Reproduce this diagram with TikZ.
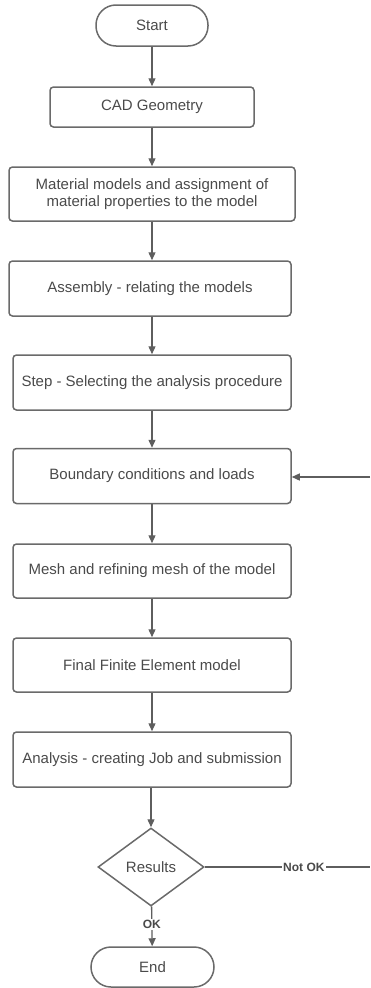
\documentclass[tikz,border=0pt]{standalone}
\usepackage{fontspec}
\setmainfont{Liberation Sans}
\usetikzlibrary{shapes.geometric,arrows.meta}
\definecolor{txt}{HTML}{4A4A4A}
\definecolor{edge}{HTML}{6A6A6A}
\definecolor{conn}{HTML}{5E5E5E}
\begin{document}
\begin{tikzpicture}[x=1pt,y=-1pt,
  every node/.style={font=\fontsize{15}{17}\selectfont, text=txt},
  procbox/.style={draw=edge, line width=1.5pt, rounded corners=3.5pt, align=center, inner sep=0pt},
  termbox/.style={draw=edge, line width=1.5pt, rounded corners=20pt, inner sep=0pt, minimum width=112pt, minimum height=41pt},
  decbox/.style={draw=edge, line width=1.5pt, diamond, inner sep=0pt, minimum width=106pt, minimum height=78pt},
  flow/.style={draw=conn, line width=1.3pt, -{Triangle[length=8pt,width=7pt]}},
  lab/.style={font=\bfseries\fontsize{12}{14}\selectfont, fill=white, inner sep=1pt, text=txt}]
\useasboundingbox (0,0) rectangle (370,988);
\node[termbox] (start) at (152,25.5) {Start};
\node[procbox, minimum width=204pt, minimum height=40pt] (cad) at (152,107) {CAD Geometry};
\node[procbox, minimum width=286pt, minimum height=54pt] (mat) at (152,194) {Material models and assignment of\\material properties to the model};
\node[procbox, minimum width=282pt, minimum height=55pt] (asm) at (150,288.5) {Assembly - relating the models};
\node[procbox, minimum width=278pt, minimum height=55pt] (stp) at (152,382.5) {Step - Selecting the analysis procedure};
\node[procbox, minimum width=278pt, minimum height=55pt] (bc) at (152,476) {Boundary conditions and loads};
\node[procbox, minimum width=278pt, minimum height=54pt] (msh) at (152,571) {Mesh and refining mesh of the model};
\node[procbox, minimum width=278pt, minimum height=54pt] (fin) at (152,665) {Final Finite Element model};
\node[procbox, minimum width=278pt, minimum height=55pt] (ana) at (152,759.5) {Analysis - creating Job and submission};
\node[decbox] (res) at (151,867) {Results};
\node[termbox, minimum width=123pt, minimum height=40pt] (end) at (152.5,967) {End};
\coordinate (fbA) at (370,867);
\coordinate (fbB) at (370,477);
\draw[flow] (start) -- (cad);
\draw[flow] (cad) -- (mat);
\draw[flow] (mat.south -| cad) -- (asm.north -| cad);
\draw[flow] (asm.south -| cad) -- (stp.north -| cad);
\draw[flow] (stp) -- (bc);
\draw[flow] (bc) -- (msh);
\draw[flow] (msh) -- (fin);
\draw[flow] (fin) -- (ana);
\draw[flow] (ana.south -| res) -- (res);
\draw[flow] (res) -- node[lab, pos=0.45] {OK} (end);
\draw[draw=conn, line width=1.3pt] (res.east) -- node[lab, pos=0.6] {Not OK} (fbA);
\draw[flow] (fbB) -- (bc.east |- fbB);
\end{tikzpicture}
\end{document}
